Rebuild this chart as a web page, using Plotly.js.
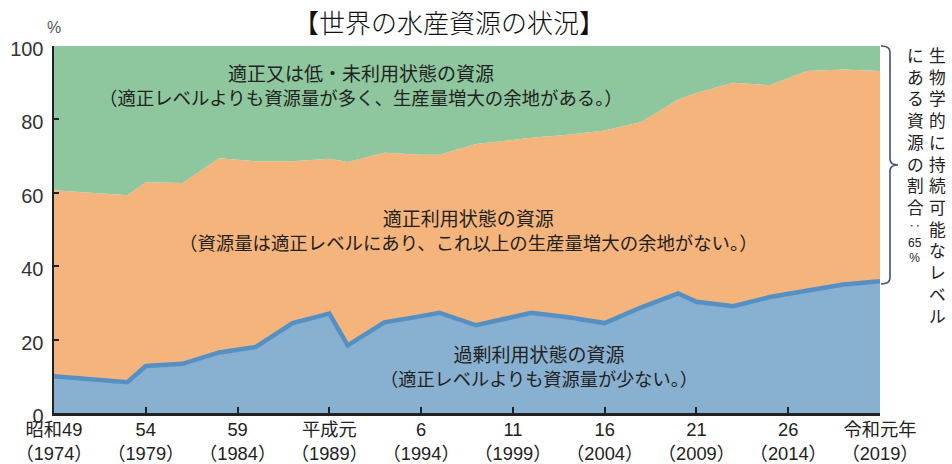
<!DOCTYPE html>
<html>
<head>
<meta charset="utf-8">
<script src="https://cdn.plot.ly/plotly-3.0.1.min.js"></script>
<style>
html,body{margin:0;padding:0;background:#fff;}
#chart{width:952px;height:464px;}
</style>
</head>
<body>
<div id="chart"></div>
<script>
// ---- data ----
const years = [1974,1978,1979,1981,1983,1985,1987,1989,1990,1992,1994,1995,1997,2000,2002,2004,2006,2008,2009,2011,2013,2015,2017,2019];
// 過剰利用状態の資源 (%)
const overfished = [10.0,8.4,12.8,13.4,16.5,18.0,24.5,27.1,18.4,24.7,26.4,27.3,23.9,27.3,26.1,24.5,28.8,32.6,30.3,29.1,31.6,33.4,35.0,35.9];
// 適正利用状態の資源 (%)
const maxSustain = [50.7,50.9,50.1,49.3,52.9,50.6,44.1,42.2,50.0,46.2,44.0,43.1,49.4,47.7,49.7,52.5,50.5,52.8,56.9,60.9,57.7,59.8,58.6,57.3];
// 適正又は低・未利用状態の資源 (%)
const underfished = [39.3,40.7,37.1,37.3,30.6,31.4,31.4,30.7,31.6,29.1,29.6,29.6,26.7,25.0,24.2,23.0,20.7,14.6,12.8,10.0,10.7,6.8,6.4,6.8];

const tickYears = [1974,1979,1984,1989,1994,1999,2004,2009,2014,2019];
const tickNames = ["昭和49","54","59","平成元","6","11","16","21","26","令和元年"];
const yTicks = [0,20,40,60,80,100];

const titleText = "【世界の水産資源の状況】";
const labelUnder1 = "適正又は低・未利用状態の資源";
const labelUnder2 = "（適正レベルよりも資源量が多く、生産量増大の余地がある。）";
const labelMax1 = "適正利用状態の資源";
const labelMax2 = "（資源量は適正レベルにあり、これ以上の生産量増大の余地がない。）";
const labelOver1 = "過剰利用状態の資源";
const labelOver2 = "（適正レベルよりも資源量が少ない。）";
const sideCol1 = "生物学的に持続可能なレベル";
const sideCol2 = "にある資源の割合";
const sideTail = ["‥", "65", "%"];

// ---- layout helpers (pixel -> paper) ----
const L = 54, R = 72, T = 46, B = 51, W = 952, H = 464;
const PW = W - L - R, PH = H - T - B;
const X = px => (px - L) / PW;
const Y = py => (H - B - py) / PH;

const jp = "Noto Sans CJK JP, sans-serif";
const mix = "Liberation Sans, Noto Sans CJK JP, sans-serif";

const traces = [
  {x: years, y: overfished, type: 'scatter', mode: 'lines', stackgroup: 'one',
   line: {color: '#5690c2', width: 4.5, shape: 'linear'}, fillcolor: '#88b0d0', hoverinfo: 'skip'},
  {x: years, y: maxSustain, type: 'scatter', mode: 'lines', stackgroup: 'one',
   line: {color: 'rgba(0,0,0,0)', width: 0}, fillcolor: '#f5b47b', hoverinfo: 'skip'},
  {x: years, y: underfished, type: 'scatter', mode: 'lines', stackgroup: 'one',
   line: {color: 'rgba(0,0,0,0)', width: 0}, fillcolor: '#8ec79d', hoverinfo: 'skip'}
];

function ann(text, px, py, size, family, color) {
  return {text: text, xref: 'paper', yref: 'paper', x: X(px), y: Y(py),
    xanchor: 'center', yanchor: 'middle', showarrow: false, borderpad: 0,
    font: {family: family || jp, size: size, color: color || '#222', weight: 400}};
}
const vert = arr => Array.from(arr).join('<br>');
const big = s => '<span style="font-size:19px">' + s + '</span>';

const annotations = [
  ann(big(labelUnder1) + '<br>' + labelUnder2, 361, 84, 18.4),
  ann(big(labelMax1) + '<br>' + labelMax2, 468, 229, 18.4),
  ann(big(labelOver1) + '<br>' + labelOver2, 539, 365, 18.2),
  ann('%', 54, 27, 16, mix, '#555'),
  // vertical side text (one character per row)
  ann(vert(sideCol1), 937, 55 + 6 * 21.7, 16.7),
  ann(vert(sideCol2), 915, 55 + 3.5 * 21.7, 16.7),
  ann(vert(sideTail), 915, 242, 12, mix)
];

const xL = X(881), xV = X(890), xT = X(898);
const yT = Y(46), yM = Y(165), yB = Y(284), d = 6 / PH;
const bracePath = `M ${xL},${yT} Q ${xV},${yT} ${xV},${yT - d} L ${xV},${yM + d} Q ${xV},${yM} ${xT},${yM} ` +
                  `Q ${xV},${yM} ${xV},${yM - d} L ${xV},${yB + d} Q ${xV},${yB} ${xL},${yB}`;

const layout = {
  width: W, height: H,
  margin: {l: L, r: R, t: T, b: B, pad: 0},
  paper_bgcolor: '#fff', plot_bgcolor: '#fff',
  showlegend: false,
  title: {text: titleText, font: {family: jp, size: 26, color: '#111', weight: 300},
          x: 449 / W, xanchor: 'center', xref: 'container',
          y: 1 - 24 / H, yanchor: 'middle', yref: 'container'},
  xaxis: {range: [1974, 2019], tickvals: tickYears,
          ticktext: tickYears.map((y, i) => tickNames[i] + '<br>（' + y + '）'),
          ticks: 'inside', ticklen: 6, tickwidth: 2, tickcolor: '#222',
          showline: true, linecolor: '#222', linewidth: 2.5, showgrid: false, zeroline: false,
          ticklabelstandoff: -1,
          tickfont: {family: mix, size: 18.3, color: '#222'}, fixedrange: true},
  yaxis: {range: [0, 100], tickvals: yTicks, ticks: 'inside', ticklen: 5, tickwidth: 2, tickcolor: '#222',
          showline: true, linecolor: '#222', linewidth: 2.5, showgrid: false, zeroline: false,
          ticklabelstandoff: 4, ticklabelshift: 3,
          tickfont: {family: mix, size: 20, color: '#333'}, fixedrange: true},
  annotations: annotations,
  shapes: [{type: 'path', xref: 'paper', yref: 'paper', path: bracePath,
            line: {color: '#3e5075', width: 1.6}, layer: 'above'}]
};

Plotly.newPlot('chart', traces, layout, {staticPlot: true, displayModeBar: false});
</script>
</body>
</html>
